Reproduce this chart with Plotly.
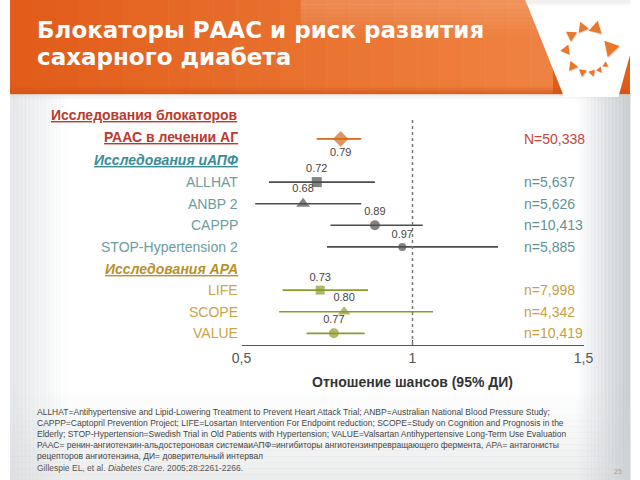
import math
import plotly.graph_objects as go

# ---------------- data ----------------
overall_label = "РААС в лечении АГ"
overall_or = [0.79]
overall_lo = [0.72]
overall_hi = [0.85]
overall_n = "N=50,338"

ace_studies = ["ALLHAT", "ANBP 2", "CAPPP", "STOP-Hypertension 2"]
ace_or = [0.72, 0.68, 0.89, 0.97]
ace_lo = [0.58, 0.54, 0.76, 0.75]
ace_hi = [0.89, 0.85, 1.03, 1.25]
ace_n = ["n=5,637", "n=5,626", "n=10,413", "n=5,885"]

arb_studies = ["LIFE", "SCOPE", "VALUE"]
arb_or = [0.73, 0.80, 0.77]
arb_lo = [0.62, 0.61, 0.69]
arb_hi = [0.87, 1.06, 0.86]
arb_n = ["n=7,998", "n=4,342", "n=10,419"]

hdr_all_1 = "Исследования блокаторов"
hdr_ace = "Исследования иАПФ"
hdr_arb = "Исследования АРА"

x_ticks = [0.5, 1, 1.5]
x_ticktext = ["0,5", "1", "1,5"]
x_title = "Отношение шансов (95% ДИ)"

title_lines = ["Блокаторы РААС и риск развития", "сахарного диабета"]
footnotes = [
    "ALLHAT=Antihypertensive and Lipid-Lowering Treatment to Prevent Heart Attack Trial; ANBP=Australian National Blood Pressure Study;",
    "CAPPP=Captopril Prevention Project; LIFE=Losartan Intervention For Endpoint reduction; SCOPE=Study on Cognition and Prognosis in the",
    "Elderly; STOP-Hypertension=Swedish Trial in Old Patients with Hypertension; VALUE=Valsartan Antihypertensive Long-Term Use Evaluation",
    "РААС= ренин-ангиотензин-альдостероновая системаиАПФ=ингибиторы ангиотензинпревращающего фермента, АРА= антагонисты",
    "рецепторов ангиотензина, ДИ= доверительный интервал",
]
citation = "Gillespie EL, et al. <i>Diabetes Care</i>. 2005;28:2261-2266."
page_no = "25"

# row order bottom -> top
rows = list(reversed(arb_studies)) + [hdr_arb] + list(reversed(ace_studies)) + [hdr_ace, overall_label]

W, H = 640, 480
FONT = "Liberation Sans, Arial, sans-serif"
TFONT = "DejaVu Sans, Liberation Sans, sans-serif"


def X(px):
    return px / W


def Y(py):
    return 1 - py / H


shapes = []


def rect(x0, y0, x1, y1, color, opacity=1.0, layer="below"):
    shapes.append(dict(type="rect", xref="paper", yref="paper",
                       x0=X(x0), x1=X(x1), y0=Y(y1), y1=Y(y0),
                       fillcolor=color, opacity=opacity, line_width=0, layer=layer))


def hgrad(x0, x1, y0, y1, color, a0, a1, n=20):
    for i in range(n):
        t = (i + 0.5) / n
        a = a0 + (a1 - a0) * t
        xa = x0 + (x1 - x0) * i / n
        xb = x0 + (x1 - x0) * (i + 1) / n
        rect(xa, y0, xb + 0.5, y1, color, a)


def vgrad(x0, x1, y0, y1, color, a0, a1, n=20):
    for i in range(n):
        t = (i + 0.5) / n
        a = a0 + (a1 - a0) * t
        ya = y0 + (y1 - y0) * i / n
        yb = y0 + (y1 - y0) * (i + 1) / n
        rect(x0, ya, x1, yb + 0.5, color, a)


def path(points, color, opacity=1.0):
    d = "M " + " L ".join(f"{X(px):.5f},{Y(py):.5f}" for px, py in points) + " Z"
    shapes.append(dict(type="path", xref="paper", yref="paper", path=d,
                       fillcolor=color, opacity=opacity, line_width=0, layer="below"))


# ---- slide background ----
rect(0, 0, W, H, "#ffffff", 1)
hgrad(0, 60, 93, H, "#c8ccd0", 0.45, 0.0, 15)
hgrad(585, W, 93, H, "#b8bec4", 0.0, 0.75, 15)
vgrad(0, W, 390, H, "#d4d6d8", 0.0, 0.45, 15)

# ---- header banner ----
rect(0, 0, W, 94, "#e25c1a", 1)
hgrad(0, 560, 0, 94, "#f39150", 0.0, 0.75, 24)
vgrad(300, 560, 0, 40, "#f7b890", 0.35, 0.0, 10)
vgrad(0, W, 86, 94, "#c95214", 0.0, 0.6, 4)
vgrad(0, W, 94, 100, "#d0d0d0", 0.35, 0.0, 4)
# white V cut with logo
path([(532, 0), (W, 0), (W, 55), (628, 97), (572, 97)], "#ffffff")
vgrad(532, W, 0, 6, "#d8d8d8", 0.5, 0.0, 3)

# logo triangles around a ring
cx, cy, rr = 597, 50, 23
logo = [(-105, 11), (-70, 13), (-5, 16), (40, 6), (60, 6), (80, 7), (105, 8), (135, 10), (180, 10), (220, 11)]
for ang, s in logo:
    a = math.radians(ang)
    px, py = cx + rr * math.cos(a), cy + rr * math.sin(a)
    rot = a + math.pi / 2 + 0.4
    pts = []
    for k in range(3):
        b = rot + k * 2 * math.pi / 3
        pts.append((px + 0.6 * s * math.cos(b), py + 0.6 * s * math.sin(b)))
    path([(p[0] + 1, p[1] + 1) for p in pts], "#b0a090", 0.35)
    path(pts, "#e8782a")

# ---- forest plot ----
fig = go.Figure()

# dashed reference line at OR = 1
shapes.append(dict(type="line", xref="x", yref="paper", x0=1, x1=1,
                   y0=Y(345), y1=Y(120), line=dict(color="#777777", width=1.5, dash="dot"),
                   layer="above"))


def add_group(names, ors, los, his, color, symbols, sizes, textpos):
    fig.add_trace(go.Scatter(
        x=ors, y=names, mode="markers+text",
        text=[f"{v:.2f}" for v in ors], textposition=textpos,
        textfont=dict(family=FONT, size=11, color="#444444"),
        marker=dict(color=color, symbol=symbols, size=sizes, line=dict(width=0)),
        error_x=dict(type="data", symmetric=False,
                     array=[h - o for h, o in zip(his, ors)],
                     arrayminus=[o - l for o, l in zip(ors, los)],
                     color=color, thickness=1.6, width=0),
        showlegend=False, hoverinfo="skip", cliponaxis=False,
    ))


add_group([overall_label], overall_or, overall_lo, overall_hi, "#d2691e",
          ["diamond"], [12], "bottom center")
add_group(ace_studies, ace_or, ace_lo, ace_hi, "#4d4d4d",
          ["square", "triangle-up", "circle", "circle"], [10, 12, 10, 8], "top center")
add_group(arb_studies, arb_or, arb_lo, arb_hi, "#8c9a2c",
          ["square", "triangle-up", "circle"], [9, 11, 10], "top center")

annotations = []


def ann(text, x, y, color, size=14, xanchor="right", yref="y", yshift=0, xref="paper", family=FONT):
    annotations.append(dict(text=text, x=x, y=y, xref=xref, yref=yref, xanchor=xanchor,
                            align=xanchor if xanchor != "center" else "center",
                            yanchor="middle", showarrow=False, yshift=yshift,
                            font=dict(family=family, size=size, color=color)))


LX = X(237)
NX = X(529)
red, teal, gold = "#bb3a2e", "#3a8c96", "#b8902c"
ann(f"<b><u>{hdr_all_1}</u></b>", LX, overall_label, red, size=14, yshift=24)
ann(f"<b><u>{overall_label}</u></b>", LX, overall_label, red, size=14, yshift=2)
ann(f"<b><i><u>{hdr_ace}</u></i></b>", LX, hdr_ace, teal, size=14)
ann(f"<b><i><u>{hdr_arb}</u></i></b>", LX, hdr_arb, gold, size=14)
for s in ace_studies:
    ann(s, LX, s, "#6c9ca0")
for s in arb_studies:
    ann(s, LX, s, "#c9a448")
ann(overall_n, NX, overall_label, "#c4453c", xanchor="left")
for s, n in zip(ace_studies, ace_n):
    ann(n, NX, s, "#5e9397", xanchor="left")
for s, n in zip(arb_studies, arb_n):
    ann(n, NX, s, "#c9a040", xanchor="left")

# axis title
ann(f"<b>{x_title}</b>", 1.0, Y(382), "#333333", size=14, xanchor="center", yref="paper", xref="x")

# title
for i, t in enumerate(title_lines):
    ann(f"<b>{t}</b>", X(26), Y(30 + 27 * i), "#ffffff", size=23, xanchor="left",
        yref="paper", family=TFONT)

# footnotes
for i, t in enumerate(footnotes):
    ann(t, X(26), Y(411.5 + 11 * i), "#454545", size=8.5, xanchor="left", yref="paper")
ann(citation, X(26), Y(468), "#555555", size=8.5, xanchor="left", yref="paper")
ann(page_no, X(628), Y(471), "#a0a0a0", size=7, xanchor="center", yref="paper")

fig.update_layout(
    width=W, height=H, margin=dict(l=0, r=0, t=0, b=0),
    paper_bgcolor="#ffffff", plot_bgcolor="rgba(0,0,0,0)",
    shapes=shapes, annotations=annotations,
    xaxis=dict(domain=[X(239), X(592)], range=[0.5, 1.5], tickvals=x_ticks, ticktext=x_ticktext,
               showline=True, linecolor="#555555", linewidth=1, ticks="inside", ticklen=5,
               tickcolor="#555555", showgrid=False, zeroline=False,
               tickfont=dict(family=FONT, size=14, color="#555555")),
    yaxis=dict(domain=[Y(345), Y(100)], range=[-0.54, 10.8], type="category",
               categoryorder="array", categoryarray=rows, visible=False),
)

fig.write_html("out.html")
